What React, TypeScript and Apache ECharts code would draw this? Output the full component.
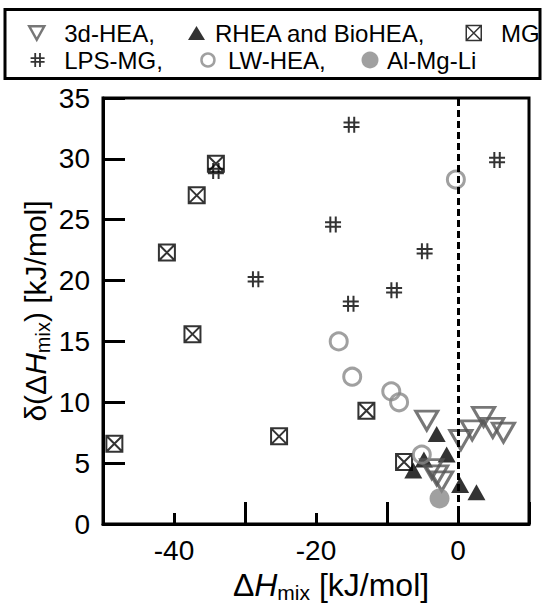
import React, { useEffect, useRef } from 'react';
import * as echarts from 'echarts';

const FONT = '"Liberation Sans", Arial, Helvetica, sans-serif';

// [ΔHmix (kJ/mol), δ(ΔHmix) (kJ/mol)]
const hea3d = [[-4.4, 8.5], [0.4, 6.9], [2.0, 7.7], [3.6, 8.8], [4.9, 7.9], [6.4, 7.5], [-3.7, 4.5], [-3.0, 4.0], [-2.3, 3.5]];
const rheaBio = [[-3.0, 7.4], [-1.6, 5.7], [-6.3, 4.4], [-4.8, 5.3], [0.3, 3.2], [2.6, 2.6]];
const mg = [[-34.1, 29.6], [-36.8, 27.0], [-41.0, 22.3], [-37.4, 15.6], [-48.4, 6.6], [-25.2, 7.2], [-12.9, 9.3], [-7.6, 5.1]];
const lpsMg = [[-34.1, 29.0], [-28.5, 20.1], [-15.0, 32.8], [5.5, 29.9], [-17.6, 24.6], [-4.7, 22.4], [-9.0, 19.2], [-15.1, 18.1]];
const lwHea = [[-0.3, 28.3], [-16.8, 15.0], [-14.9, 12.1], [-9.4, 10.9], [-8.3, 10.0], [-5.1, 5.7]];
const alMgLi = [[-2.6, 2.1]];

const xLabeled = [-40, -20, 0];
const xMin = -50, xMax = 10, xMinorStep = 10, xMajorStep = 20;
const yMin = 0, yMax = 35, yStep = 5;

const MG_SYMBOL = 'path://M0,0H10V10H0Z M0,0L10,10 M10,0L0,10';
const LPS_SYMBOL = 'path://M3.3,0V10 M6.7,0V10 M0,3.6H10 M0,6.4H10';
const DOWN_TRI = 'path://M0,0L10,0L5,9Z';
const NONE = 'rgba(0,0,0,0)';

function makeRich(size: number, sub: number, lead: number) {
  return {
    f: { fontSize: size, fontFamily: FONT, color: '#000', lineHeight: size + 4, padding: [0, 0, 0, lead] },
    n: { fontSize: size, fontFamily: FONT, color: '#000', lineHeight: size + 4 },
    i: { fontSize: size, fontFamily: FONT, color: '#000', fontStyle: 'italic', lineHeight: size + 4 },
    s: { fontSize: sub, fontFamily: FONT, color: '#000', lineHeight: sub, padding: [15, 0, 0, 0] },
  };
}

function legendItem(name: string, left: number, top: number, w: number, h: number, pad: number, itemStyle: any, suffix: string, icon?: string) {
  const o: any = {
    data: [name],
    left, top, itemWidth: w, itemHeight: h, padding: 0,
    selectedMode: false,
    formatter: '{name}' + suffix,
    textStyle: { fontSize: 24, fontFamily: FONT, color: '#000', padding: [0, 0, 0, pad] },
    itemStyle,
  };
  if (icon) o.icon = icon;
  return o;
}

export default function App() {
  const ref = useRef<HTMLDivElement>(null);
  useEffect(() => {
    const chart = echarts.init(ref.current!, null, { renderer: 'svg' });
    const option: any = {
      animation: false,
      backgroundColor: '#fff',
      textStyle: { fontFamily: FONT },
      graphic: [
        { type: 'rect', shape: { x: 5, y: 9.5, width: 535, height: 69 }, style: { fill: 'none', stroke: '#000', lineWidth: 3 }, z: 0 },
      ],
      legend: [
        legendItem('3d-HEA', 28, 21, 15, 14, 15, { color: NONE, borderColor: '#555', borderWidth: 2.5 }, ',', DOWN_TRI),
        legendItem('RHEA and BioHEA', 188, 21, 17, 14, 5, { color: '#000', borderWidth: 0 }, ','),
        legendItem('MG', 465.5, 21, 15, 15, 14.8, { color: '#fff', borderColor: '#000', borderWidth: 1.5 }, ''),
        legendItem('LPS-MG', 29.7, 48, 14, 14, 14.6, { color: NONE, borderColor: '#000', borderWidth: 1.8 }, ','),
        legendItem('LW-HEA', 200.2, 48, 13, 13, 8.5, { color: NONE, borderColor: '#888', borderWidth: 2.5 }, ','),
        legendItem('Al-Mg-Li', 361.5, 48, 17, 17, 3.5, { color: '#888', borderWidth: 0 }, ''),
      ],
      grid: { left: 103, right: 15, top: 98, bottom: 79, show: true, borderColor: '#000', borderWidth: 3, containLabel: false, outerBoundsMode: 'none' },
      xAxis: [
        {
          type: 'value', position: 'bottom', min: xMin, max: xMax, interval: xMinorStep,
          axisLine: { show: true, onZero: false, lineStyle: { color: '#000', width: 3 } },
          axisTick: { show: true, inside: true, length: 11, lineStyle: { color: '#000', width: 3 } },
          splitLine: { show: false },
          axisLabel: {
            fontSize: 28, color: '#000', fontFamily: FONT, margin: 12,
            formatter: (v: number) => (xLabeled.indexOf(v) >= 0 ? String(v) : ''),
          },
          name: '{f|Δ}{i|H}{s|mix}{n| [kJ/mol]}',
          nameLocation: 'middle', nameGap: 43, nameMoveOverlap: false,
          nameTextStyle: { rich: makeRich(32, 21, 30) },
        },
        {
          type: 'value', position: 'bottom', min: xMin, max: xMax, interval: xMajorStep,
          axisLine: { show: false, onZero: false },
          axisTick: { show: true, inside: true, length: 22, lineStyle: { color: '#000', width: 3 } },
          splitLine: { show: false },
          axisLabel: { show: false },
        },
      ],
      yAxis: {
        type: 'value', position: 'left', min: yMin, max: yMax, interval: yStep,
        axisLine: { show: true, onZero: false, lineStyle: { color: '#000', width: 3 } },
        axisTick: { show: true, inside: true, length: 22, lineStyle: { color: '#000', width: 3 } },
        splitLine: { show: false },
        axisLabel: { fontSize: 28, color: '#000', fontFamily: FONT, margin: 13 },
        name: '{n|δ(Δ}{i|H}{s|mix}{n|) [kJ/mol]}',
        nameLocation: 'middle', nameGap: 51, nameMoveOverlap: false,
        nameTextStyle: { rich: makeRich(30, 20, 0) },
      },
      series: [
        {
          name: 'MG', type: 'scatter', data: mg, symbol: MG_SYMBOL, symbolSize: 16,
          itemStyle: { color: '#fff', borderColor: '#000', borderWidth: 2 },
        },
        {
          name: 'RHEA and BioHEA', type: 'scatter', data: rheaBio, symbol: 'triangle', symbolSize: [18, 16],
          itemStyle: { color: '#000' },
        },
        {
          name: '3d-HEA', type: 'scatter', data: hea3d, symbol: 'triangle', symbolRotate: 180, symbolSize: [22, 19],
          itemStyle: { color: NONE, borderColor: '#555', borderWidth: 3 },
          markLine: {
            silent: true, symbol: ['none', 'none'], label: { show: false },
            lineStyle: { color: '#000', width: 3, type: [7, 4] },
            data: [{ xAxis: 0 }],
          },
        },
        {
          name: 'LPS-MG', type: 'scatter', data: lpsMg, symbol: LPS_SYMBOL, symbolSize: 16,
          itemStyle: { color: NONE, borderColor: '#000', borderWidth: 2 },
        },
        {
          name: 'LW-HEA', type: 'scatter', data: lwHea, symbol: 'circle', symbolSize: 17,
          itemStyle: { color: NONE, borderColor: '#888', borderWidth: 3 },
        },
        {
          name: 'Al-Mg-Li', type: 'scatter', data: alMgLi, symbol: 'circle', symbolSize: 20,
          itemStyle: { color: '#888' },
        },
      ],
    };
    chart.setOption(option);
    return () => chart.dispose();
  }, []);
  return <div ref={ref} style={{ position: 'fixed', left: 0, top: 0, width: 544, height: 603, background: '#fff' }} />;
}
